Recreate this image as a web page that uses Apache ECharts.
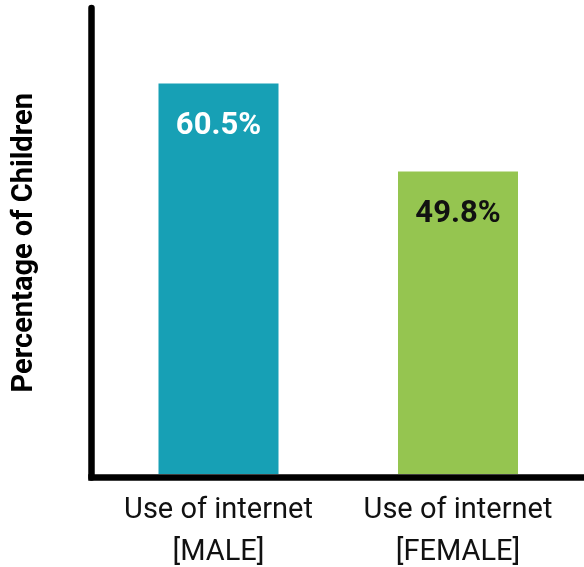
<!DOCTYPE html>
<html>
<head>
<meta charset="utf-8">
<style>
  html, body { margin: 0; padding: 0; background: #ffffff; }
  #chart { width: 584px; height: 567px; }
</style>
<script src="https://cdn.jsdelivr.net/npm/echarts@6/dist/echarts.min.js"></script>
</head>
<body>
<div id="chart"></div>
<script>
// Internet use among children, by sex
const categories = ['Use of internet\n[MALE]', 'Use of internet\n[FEMALE]'];
const percentages = [60.5, 49.8];
const yAxisTitle = 'Percentage of Children';

const barColors = ['#17a0b5', '#95c550'];
const labelColors = ['#ffffff', '#111111'];
const textFont = 'Roboto, "Liberation Sans", sans-serif';

const chart = echarts.init(document.getElementById('chart'), null, { renderer: 'canvas' });

chart.setOption({
  animation: false,
  backgroundColor: '#ffffff',
  grid: [
    // bars
    { left: 98.75, width: 479, top: 8, bottom: 93, outerBoundsMode: 'none', containLabel: false },
    // heavy frame lines
    { left: 91.5, right: 0, top: 8, bottom: 89.5, outerBoundsMode: 'none', containLabel: false }
  ],
  xAxis: [
    {
      gridIndex: 0,
      type: 'category',
      data: categories,
      axisLine: { show: false },
      axisTick: { show: false },
      axisLabel: {
        interval: 0,
        margin: 16,
        color: '#111111',
        fontFamily: textFont,
        fontSize: 29,
        lineHeight: 42
      }
    },
    {
      gridIndex: 1,
      type: 'value',
      min: 0,
      max: 1,
      axisLine: { show: true, onZero: false, lineStyle: { color: '#000000', width: 6.5, cap: 'square' } },
      axisTick: { show: false },
      axisLabel: { show: false },
      splitLine: { show: false }
    }
  ],
  yAxis: [
    {
      gridIndex: 0,
      type: 'value',
      min: 13,
      max: 69.7,
      axisLine: { show: false },
      axisTick: { show: false },
      axisLabel: { show: false },
      splitLine: { show: false }
    },
    {
      gridIndex: 1,
      type: 'value',
      min: 0,
      max: 1,
      name: yAxisTitle,
      nameLocation: 'middle',
      nameGap: 52,
      nameTextStyle: {
        color: '#000000',
        fontFamily: textFont,
        fontWeight: 'bold',
        fontSize: 29
      },
      axisLine: { show: true, onZero: false, lineStyle: { color: '#000000', width: 6.5 } },
      axisTick: { show: false },
      axisLabel: { show: false },
      splitLine: { show: false }
    }
  ],
  series: [
    {
      type: 'bar',
      xAxisIndex: 0,
      yAxisIndex: 0,
      barWidth: 120,
      data: percentages.map((v, i) => ({
        value: v,
        itemStyle: { color: barColors[i] },
        label: { color: labelColors[i] }
      })),
      label: {
        show: true,
        position: ['50%', 43],
        align: 'center',
        verticalAlign: 'middle',
        fontFamily: textFont,
        fontWeight: 'bold',
        fontSize: 31,
        formatter: p => p.value.toFixed(1) + '%'
      }
    }
  ]
});
</script>
</body>
</html>
